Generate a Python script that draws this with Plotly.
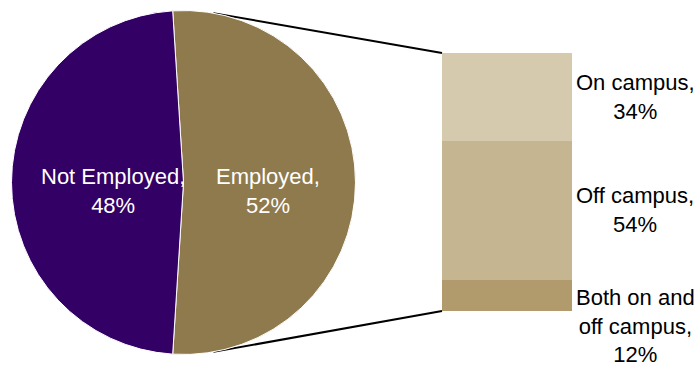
import math
import plotly.graph_objects as go

# ---- data ----
pie_labels = ["Employed", "Not Employed"]
pie_values = [52, 48]
bar_labels = ["Both on and<br>off campus", "Off campus", "On campus"]
bar_values = [12, 54, 34]

# ---- styles ----
W, H = 700, 369
FONT = "Liberation Sans Narrow, Arial Narrow, Liberation Sans, Arial, sans-serif"
pie_colors = ["#8F7A4D", "#330066"]
bar_colors = ["#B19B6C", "#C6B591", "#D5CAAD"]

# pie geometry in pixels
cx, cy, r = 183.5, 182.5, 172.0
pie_dom_x = [(cx - r) / W, (cx + r) / W]
pie_dom_y = [1 - (cy + r) / H, 1 - (cy - r) / H]

# bar geometry in pixels
bx0, bx1, by0, by1 = 442, 572, 53, 311

emp_share = pie_values[0] / sum(pie_values) * 360.0
rotation = 90 - emp_share / 2  # center employed slice at 3 o'clock

fig = go.Figure()
fig.add_trace(go.Pie(
    labels=pie_labels, values=pie_values, sort=False, direction="clockwise",
    rotation=rotation,
    marker=dict(colors=pie_colors, line=dict(color="white", width=1)),
    textinfo="none",
    domain=dict(x=pie_dom_x, y=pie_dom_y),
    showlegend=False, hoverinfo="label+percent",
))

for lab, val, col in zip(bar_labels, bar_values, bar_colors):
    fig.add_trace(go.Bar(
        x=["Employed"], y=[val], name=lab, marker=dict(color=col, line=dict(width=0)),
        showlegend=False, xaxis="x", yaxis="y",
    ))

annotations = []
# pie labels (placed inside each slice)
pie_total = sum(pie_values)
pie_label_x = {"Employed": 268, "Not Employed": 113}
for lab, val in zip(pie_labels, pie_values):
    pct = round(val / pie_total * 100)
    annotations.append(dict(x=pie_label_x[lab] / W, xref="paper", y=1 - 191 / H, yref="paper",
                            text=f"{lab},<br>{pct}%", showarrow=False,
                            xanchor="center", yanchor="middle",
                            font=dict(family=FONT, size=22, color="white")))

# annotations for the bar segments
cum = 0
total = sum(bar_values)
for i, (lab, val) in enumerate(zip(bar_labels, bar_values)):
    mid = cum + val / 2
    cum += val
    pct = round(val / total * 100)
    if i == 0:
        annotations.append(dict(x=635 / W, xref="paper", y=mid, yref="y",
                                text=f"{lab},<br>{pct}%", showarrow=False,
                                xanchor="center", yanchor="top", yshift=13,
                                font=dict(family=FONT, size=22, color="black")))
    else:
        annotations.append(dict(x=635 / W, xref="paper", y=mid, yref="y",
                                text=f"{lab},<br>{pct}%", showarrow=False,
                                xanchor="center", yanchor="middle",
                                font=dict(family=FONT, size=22, color="black")))

# connector lines from pie edge to bar corners
ang = math.radians(10)
sx = cx + r * math.sin(ang)
sy_top = cy - r * math.cos(ang)
sy_bot = cy + r * math.cos(ang)
shapes = [
    dict(type="line", xref="paper", yref="paper", x0=sx / W, y0=1 - sy_top / H,
         x1=bx0 / W, y1=1 - by0 / H, line=dict(color="black", width=2), layer="below"),
    dict(type="line", xref="paper", yref="paper", x0=sx / W, y0=1 - sy_bot / H,
         x1=bx0 / W, y1=1 - by1 / H, line=dict(color="black", width=2), layer="below"),
]

fig.update_layout(
    width=W, height=H, margin=dict(l=0, r=0, t=0, b=0),
    paper_bgcolor="white", plot_bgcolor="rgba(0,0,0,0)",
    barmode="stack", bargap=0,
    xaxis=dict(domain=[bx0 / W, bx1 / W], visible=False, fixedrange=True),
    yaxis=dict(domain=[1 - by1 / H, 1 - by0 / H], range=[0, 100], visible=False, fixedrange=True),
    annotations=annotations, shapes=shapes,
    font=dict(family=FONT),
)

fig.write_html("out.html")
